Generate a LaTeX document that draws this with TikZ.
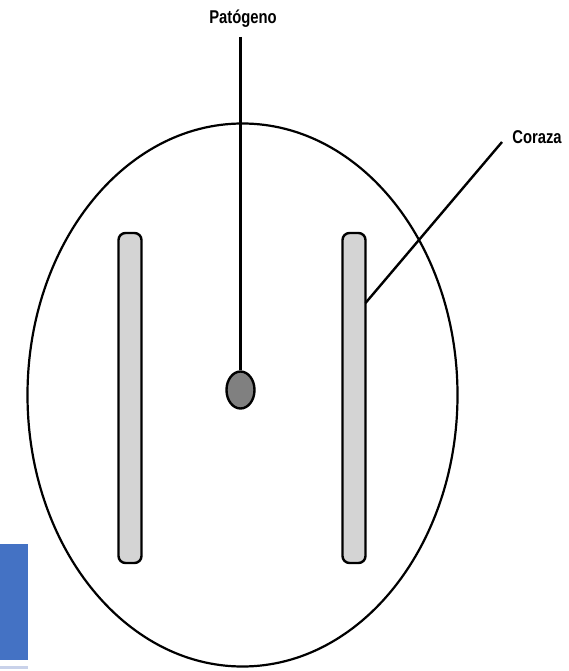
\documentclass[tikz,border=0pt]{standalone}
\usepackage{fontspec}
\setmainfont{Liberation Sans}
\newfontfamily\labelfont[FakeStretch=0.8]{Liberation Sans}
\usepackage{xcolor}
\usetikzlibrary{shapes.geometric}
\definecolor{barfill}{HTML}{D4D4D4}
\definecolor{dotfill}{HTML}{808080}
\definecolor{tabblue}{HTML}{4472C4}
\definecolor{tabline}{HTML}{C9D2EA}

\begin{document}
\begin{tikzpicture}[x=1pt, y=-1pt, line width=2.4pt,
    shell/.style={draw, rounded corners=7pt, fill=barfill, minimum width=23pt, minimum height=330pt, inner sep=0pt},
    lbl/.style={font=\labelfont\bfseries\fontsize{18.5}{18.5}\selectfont, inner sep=0pt}]
        \useasboundingbox (0,0) rectangle (569,671);
        % tab at the lower left
        \fill[tabblue] (0,544) rectangle (28,660);
        \fill[tabline] (0,666) rectangle (28,669);

        % cell and its parts
        \node[ellipse, draw, line width=2.2pt, minimum width=430pt, minimum height=543pt, inner sep=0pt] (cell) at (242.5,395) {};
        \node[shell] (left) at (130,398) {};
        \node[shell] (right) at (354,398) {};
        \node[ellipse, draw, fill=dotfill, minimum width=28pt, minimum height=37pt, inner sep=0pt] (pathogen) at (240.5,390) {};

        % labels
        \node[lbl] (patogeno) at (243,19) {Patógeno};
        \node[lbl] (coraza) at (537,137) {Coraza};
        \coordinate (p1) at (240.5,37);
        \coordinate (c1) at (502,142);
        \coordinate (c2) at (365.5,303);

        \draw (p1) -- (pathogen.north);
        \draw (c1) -- (c2);
    \end{tikzpicture}
\end{document}
